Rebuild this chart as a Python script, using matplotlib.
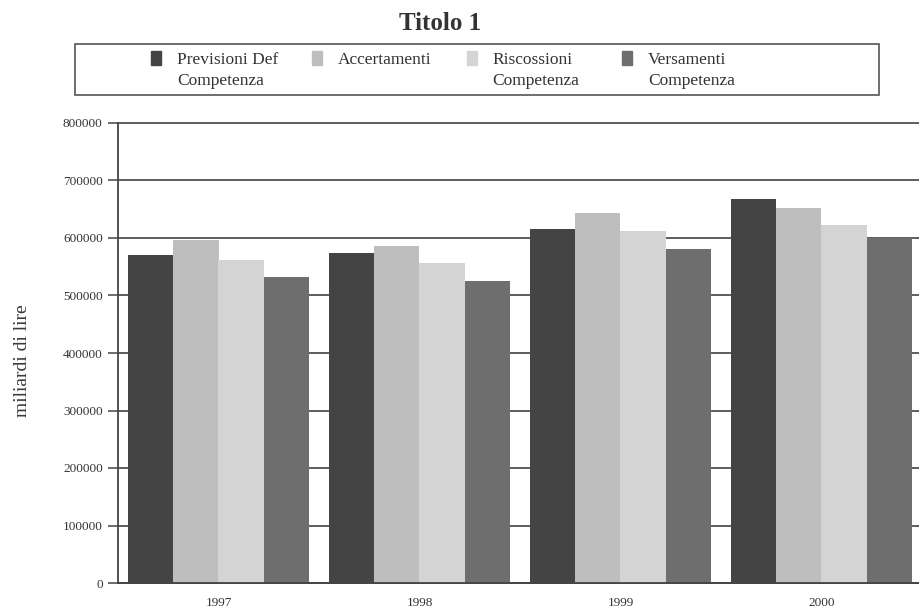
import matplotlib.pyplot as plt
import matplotlib.patches as mpatches
import numpy as np

plt.rcParams['font.family'] = ['Liberation Serif', 'DejaVu Serif']

anni = ["1997", "1998", "1999", "2000"]
serie = ["Previsioni Def\nCompetenza", "Accertamenti",
         "Riscossioni\nCompetenza", "Versamenti\nCompetenza"]
previsioni = [570000, 574000, 616000, 668000]
accertamenti = [597000, 586000, 643000, 652000]
riscossioni = [562000, 557000, 612000, 623000]
versamenti = [532000, 525000, 581000, 600000]
valori = [previsioni, accertamenti, riscossioni, versamenti]
colori = ["#444444", "#bebebe", "#d4d4d4", "#6e6e6e"]
y_ticks = np.arange(0, 800001, 100000)

fig = plt.figure(figsize=(9.2, 6.12), dpi=100)
ax = fig.add_axes([118 / 920, 29 / 612, 804 / 920, 460 / 612])

x = np.arange(len(anni))
w = 0.224
for i, (vals, col) in enumerate(zip(valori, colori)):
    ax.bar(x + (i - 1.5) * w, vals, width=w, color=col, zorder=2)

ax.set_xlim(-0.5, 3.5)
ax.set_ylim(0, 800000)
ax.set_yticks(y_ticks)
ax.set_yticklabels([str(v) for v in y_ticks], fontsize=9.5, color="#333333")
ax.set_xticks(x)
ax.set_xticklabels(anni, fontsize=9.5, color="#333333")
ax.tick_params(axis="x", length=0, pad=10)
ax.tick_params(axis="y", length=7, width=1.1, color="#444444", pad=4)
ax.yaxis.grid(True, color="#505050", linewidth=1.3, zorder=0)
ax.set_axisbelow(True)
for gl in ax.get_ygridlines():
    gl.set_clip_on(False)
for s in ["top", "right"]:
    ax.spines[s].set_visible(False)
for s in ["left", "bottom"]:
    ax.spines[s].set_color("#444444")
    ax.spines[s].set_linewidth(1.3)

fig.text(23 / 920, 1 - 361 / 612, "miliardi di lire", rotation=90,
         ha="center", va="center", fontsize=14, color="#3a3a3a")
fig.text(440 / 920, 1 - 23 / 612, "Titolo 1", ha="center", va="center",
         fontsize=18, fontweight="bold", color="#333333")

# legenda disegnata a mano
fig.patches.append(mpatches.Rectangle((75 / 920, 1 - 95 / 612), 804 / 920, 51 / 612,
                                      transform=fig.transFigure, fill=False,
                                      edgecolor="#555555", linewidth=1.2))
marker_x = [151, 312, 467, 622]
text_x = [177, 338, 492, 648]
for mx, tx, lab, col in zip(marker_x, text_x, serie, colori):
    fig.patches.append(mpatches.Rectangle((mx / 920, 1 - 65 / 612), 10 / 920, 14 / 612,
                                          transform=fig.transFigure, color=col))
    fig.text(tx / 920, 1 - 52 / 612, lab, ha="left", va="top", fontsize=12.5,
             color="#333333", linespacing=1.45)

fig.savefig("out.png", dpi=100)
